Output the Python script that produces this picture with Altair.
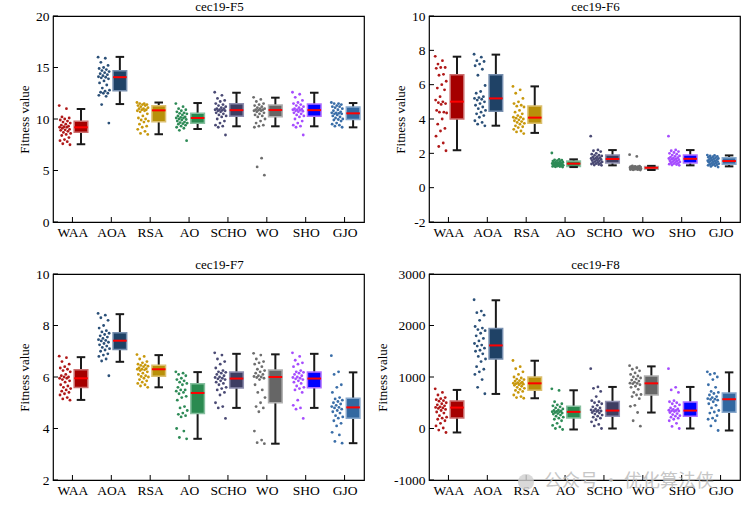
import altair as alt
import pandas as pd

ALGS = ["WAA", "AOA", "RSA", "AO", "SCHO", "WO", "SHO", "GJO"]
POINT_COLORS = ["#b01818", "#2b5078", "#c8980c", "#2e8b57", "#4a4a74", "#6e6e6e", "#a64dff", "#3a6ea8"]
BOX_FILL = ["#a50000", "#1f4266", "#b8900a", "#2a8a50", "#3e3e62", "#666666", "#0000ff", "#3368a0"]
BOX_EDGE = ["#cc7070", "#7890b0", "#dcc070", "#88c0a0", "#9090b0", "#b0b0b0", "#b070ff", "#88a8cc"]

# ---------------- cec19-F5 ----------------
F5_WAA = [11.3, 11.0, 10.2, 10.1, 10.0, 9.9, 9.8, 9.7, 9.6, 9.5, 9.4, 9.3, 9.25, 9.2, 9.2, 9.1, 9.0, 8.95, 8.9, 8.8, 8.7, 8.6, 8.5, 8.4, 8.2, 8.0, 7.9, 7.8, 7.6, 7.5]
F5_AOA = [16.0, 15.9, 15.5, 15.2, 15.0, 14.9, 14.8, 14.7, 14.6, 14.5, 14.4, 14.3, 14.2, 14.1, 14.05, 14.0, 13.9, 13.7, 13.5, 13.3, 13.0, 12.8, 12.7, 12.6, 12.5, 12.5, 12.3, 12.2, 11.4, 9.6]
F5_RSA = [11.6, 11.5, 11.5, 11.4, 11.4, 11.3, 11.3, 11.2, 11.1, 11.0, 11.0, 10.9, 10.9, 10.8, 10.8, 10.7, 10.5, 10.3, 10.1, 10.0, 9.9, 9.8, 9.7, 9.5, 9.3, 9.2, 9.0, 8.8, 8.6, 8.5]
F5_AO = [11.5, 11.2, 11.0, 10.9, 10.8, 10.7, 10.6, 10.55, 10.5, 10.4, 10.3, 10.2, 10.15, 10.1, 10.1, 10.0, 9.95, 9.9, 9.8, 9.7, 9.65, 9.6, 9.55, 9.5, 9.4, 9.3, 9.2, 9.1, 8.9, 7.9]
F5_SCHO = [12.6, 12.3, 12.0, 11.8, 11.7, 11.5, 11.4, 11.3, 11.2, 11.1, 11.0, 11.0, 10.9, 10.9, 10.85, 10.8, 10.8, 10.7, 10.6, 10.5, 10.4, 10.3, 10.2, 10.0, 9.8, 9.6, 9.4, 9.3, 9.2, 8.45]
F5_WO = [12.1, 11.9, 11.7, 11.5, 11.4, 11.3, 11.2, 11.1, 11.0, 11.0, 10.9, 10.9, 10.85, 10.8, 10.8, 10.7, 10.6, 10.5, 10.4, 10.3, 10.2, 10.0, 9.8, 9.6, 9.4, 9.3, 9.2, 6.2, 5.35, 4.55]
F5_SHO = [12.6, 12.4, 12.1, 11.8, 11.6, 11.5, 11.4, 11.3, 11.2, 11.1, 11.0, 10.95, 10.9, 10.9, 10.85, 10.8, 10.75, 10.7, 10.6, 10.5, 10.4, 10.3, 10.2, 10.0, 9.8, 9.6, 9.4, 9.3, 9.2, 8.45]
F5_GJO = [11.6, 11.5, 11.5, 11.4, 11.3, 11.2, 11.2, 11.1, 11.0, 10.9, 10.8, 10.7, 10.6, 10.6, 10.55, 10.5, 10.5, 10.4, 10.3, 10.2, 10.1, 10.0, 9.95, 9.9, 9.8, 9.6, 9.5, 9.4, 9.3, 9.2]
F5_Q1 = [8.71, 12.74, 9.74, 9.58, 10.26, 10.23, 10.26, 9.94]
F5_MED = [9.19, 14.06, 10.84, 10.1, 10.86, 10.87, 10.86, 10.55]
F5_Q3 = [9.77, 14.68, 11.29, 10.55, 11.48, 11.36, 11.45, 11.16]
F5_LO = [7.55, 11.45, 8.52, 9.03, 9.29, 9.29, 9.29, 9.19]
F5_HI = [10.97, 16.03, 11.6, 11.55, 12.55, 12.07, 12.55, 11.55]

# ---------------- cec19-F6 ----------------
F6_WAA = [7.65, 7.4, 7.2, 7.0, 7.0, 6.95, 6.6, 6.55, 6.2, 6.0, 5.8, 5.7, 5.3, 5.1, 5.0, 4.95, 4.9, 4.85, 4.5, 4.4, 4.4, 4.35, 4.0, 3.7, 3.45, 3.3, 3.0, 2.6, 2.4, 2.15]
F6_AOA = [7.77, 7.6, 7.4, 7.35, 7.2, 7.1, 6.9, 6.55, 5.95, 5.6, 5.5, 5.3, 5.25, 5.2, 5.15, 5.1, 5.0, 4.9, 4.8, 4.7, 4.6, 4.5, 4.4, 4.3, 4.2, 4.1, 3.9, 3.8, 3.7, 3.6]
F6_RSA = [5.9, 5.7, 5.5, 5.2, 5.0, 4.9, 4.8, 4.75, 4.7, 4.5, 4.4, 4.3, 4.2, 4.1, 4.1, 4.05, 4.0, 3.95, 3.9, 3.85, 3.8, 3.75, 3.7, 3.6, 3.55, 3.5, 3.4, 3.3, 3.25, 3.15]
F6_AO = [2.02, 1.65, 1.62, 1.6, 1.58, 1.55, 1.53, 1.5, 1.48, 1.46, 1.45, 1.43, 1.42, 1.41, 1.4, 1.39, 1.38, 1.36, 1.35, 1.33, 1.31, 1.3, 1.28, 1.27, 1.26, 1.25, 1.24, 1.23, 1.22, 1.2]
F6_SCHO = [3.0, 2.2, 2.15, 2.1, 2.0, 1.95, 1.9, 1.88, 1.85, 1.8, 1.78, 1.75, 1.72, 1.7, 1.68, 1.66, 1.64, 1.6, 1.58, 1.55, 1.52, 1.5, 1.47, 1.45, 1.42, 1.4, 1.38, 1.35, 1.32, 1.3]
F6_WO = [1.92, 1.82, 1.27, 1.25, 1.24, 1.23, 1.22, 1.21, 1.2, 1.19, 1.18, 1.17, 1.17, 1.16, 1.16, 1.15, 1.15, 1.14, 1.13, 1.12, 1.11, 1.1, 1.09, 1.08, 1.07, 1.07, 1.06, 1.05, 1.04, 1.03]
F6_SHO = [3.0, 2.2, 2.15, 2.1, 2.05, 2.0, 1.95, 1.9, 1.85, 1.82, 1.78, 1.75, 1.72, 1.7, 1.68, 1.66, 1.63, 1.6, 1.57, 1.55, 1.52, 1.5, 1.47, 1.45, 1.42, 1.4, 1.37, 1.35, 1.32, 1.3]
F6_GJO = [1.9, 1.88, 1.85, 1.82, 1.8, 1.77, 1.75, 1.72, 1.7, 1.68, 1.65, 1.62, 1.6, 1.57, 1.55, 1.55, 1.52, 1.5, 1.48, 1.45, 1.42, 1.4, 1.38, 1.36, 1.34, 1.32, 1.3, 1.27, 1.24, 1.2]
F6_Q1 = [4.0, 4.45, 3.75, 1.24, 1.44, 1.07, 1.44, 1.36]
F6_MED = [5.01, 5.2, 4.08, 1.4, 1.67, 1.16, 1.68, 1.55]
F6_Q3 = [6.58, 6.58, 4.76, 1.55, 1.9, 1.24, 1.9, 1.75]
F6_LO = [2.18, 3.61, 3.19, 1.2, 1.3, 1.03, 1.3, 1.24]
F6_HI = [7.63, 7.75, 5.9, 1.65, 2.19, 1.27, 2.19, 1.88]

# ---------------- cec19-F7 ----------------
F7_WAA = [6.81, 6.75, 6.6, 6.5, 6.4, 6.35, 6.3, 6.25, 6.2, 6.1, 6.05, 6.0, 6.0, 5.95, 5.95, 5.9, 5.85, 5.8, 5.7, 5.65, 5.6, 5.55, 5.5, 5.45, 5.4, 5.35, 5.3, 5.2, 5.15, 5.1]
F7_AOA = [8.47, 8.4, 8.3, 8.2, 8.0, 7.9, 7.8, 7.75, 7.7, 7.65, 7.6, 7.55, 7.5, 7.45, 7.42, 7.4, 7.35, 7.3, 7.25, 7.2, 7.15, 7.1, 7.05, 7.0, 6.9, 6.85, 6.8, 6.7, 6.62, 6.05]
F7_RSA = [6.87, 6.8, 6.7, 6.6, 6.55, 6.5, 6.47, 6.45, 6.42, 6.4, 6.35, 6.32, 6.3, 6.3, 6.28, 6.25, 6.2, 6.15, 6.1, 6.05, 6.02, 6.0, 5.95, 5.9, 5.85, 5.8, 5.75, 5.7, 5.65, 5.6]
F7_AO = [6.2, 6.15, 6.1, 6.05, 5.95, 5.9, 5.85, 5.8, 5.75, 5.7, 5.6, 5.5, 5.5, 5.45, 5.4, 5.35, 5.25, 5.2, 5.1, 4.85, 4.8, 4.7, 4.6, 4.55, 4.5, 4.45, 4.0, 3.9, 3.65, 3.6]
F7_SCHO = [6.94, 6.85, 6.7, 6.6, 6.5, 6.35, 6.25, 6.2, 6.18, 6.15, 6.1, 6.05, 6.0, 5.98, 5.95, 5.93, 5.9, 5.85, 5.8, 5.75, 5.7, 5.6, 5.55, 5.5, 5.4, 5.3, 5.0, 4.85, 4.8, 4.39]
F7_WO = [6.92, 6.85, 6.7, 6.6, 6.55, 6.5, 6.4, 6.3, 6.25, 6.2, 6.15, 6.1, 6.05, 6.02, 6.0, 5.98, 5.95, 5.9, 5.7, 5.5, 5.4, 5.2, 5.0, 4.85, 4.8, 4.65, 3.9, 3.55, 3.45, 3.41]
F7_SHO = [6.94, 6.8, 6.65, 6.55, 6.5, 6.4, 6.25, 6.2, 6.18, 6.15, 6.1, 6.05, 6.0, 5.98, 5.95, 5.93, 5.9, 5.85, 5.8, 5.75, 5.65, 5.6, 5.55, 5.5, 5.4, 5.1, 4.9, 4.8, 4.75, 4.39]
F7_GJO = [6.83, 6.2, 6.1, 5.7, 5.6, 5.4, 5.2, 5.15, 5.1, 5.05, 5.0, 4.95, 4.9, 4.85, 4.82, 4.8, 4.75, 4.7, 4.65, 4.6, 4.5, 4.45, 4.4, 4.3, 4.2, 4.1, 3.85, 3.75, 3.5, 3.43]
F7_Q1 = [5.59, 7.07, 6.03, 4.58, 5.57, 5.0, 5.58, 4.4]
F7_MED = [5.95, 7.41, 6.3, 5.38, 5.94, 6.0, 5.94, 4.82]
F7_Q3 = [6.28, 7.72, 6.46, 5.74, 6.19, 6.27, 6.19, 5.17]
F7_LO = [5.11, 6.59, 5.6, 3.6, 4.8, 3.41, 4.8, 3.43]
F7_HI = [6.77, 8.44, 6.85, 6.19, 6.9, 6.88, 6.9, 6.18]

# ---------------- cec19-F8 ----------------
F8_WAA = [770, 700, 650, 600, 580, 560, 540, 530, 500, 480, 460, 440, 420, 410, 400, 390, 370, 350, 320, 300, 250, 220, 200, 180, 150, 100, 50, 10, -30, -77]
F8_AOA = [2500, 2280, 2250, 2200, 2100, 1980, 1950, 1920, 1900, 1850, 1800, 1750, 1700, 1650, 1620, 1600, 1560, 1520, 1500, 1450, 1400, 1350, 1300, 1200, 1150, 1100, 1050, 950, 800, 675]
F8_RSA = [1320, 1200, 1160, 1100, 1050, 1000, 980, 960, 950, 930, 920, 900, 890, 880, 875, 870, 860, 850, 840, 820, 800, 780, 760, 740, 720, 700, 650, 620, 600, 587]
F8_AO = [770, 740, 520, 480, 460, 440, 420, 400, 380, 360, 350, 340, 330, 325, 320, 310, 300, 290, 280, 260, 240, 220, 200, 180, 150, 100, 60, 30, 0, -19]
F8_SCHO = [1161, 807, 780, 720, 620, 540, 520, 500, 480, 450, 420, 400, 380, 360, 350, 345, 340, 330, 310, 300, 280, 260, 240, 220, 200, 170, 130, 80, 50, 0]
F8_WO = [1220, 1180, 1150, 1120, 1080, 1050, 1020, 1000, 980, 960, 940, 920, 900, 880, 875, 870, 850, 820, 800, 760, 700, 660, 650, 620, 580, 450, 430, 310, 150, 45]
F8_SHO = [1161, 800, 750, 700, 540, 520, 500, 480, 460, 430, 400, 380, 370, 355, 350, 345, 340, 330, 310, 290, 270, 250, 240, 220, 200, 180, 150, 100, 40, 0]
F8_GJO = [1100, 1070, 1050, 1000, 950, 850, 800, 720, 700, 680, 650, 620, 600, 580, 570, 565, 550, 520, 480, 450, 400, 350, 320, 300, 250, 200, 180, 150, 50, -39]
F8_Q1 = [206, 1348, 742, 206, 239, 652, 239, 316]
F8_MED = [406, 1613, 877, 323, 348, 877, 348, 568]
F8_Q3 = [536, 1942, 1000, 432, 523, 1019, 516, 690]
F8_LO = [-77, 671, 587, -19, 0, 310, 0, -39]
F8_HI = [749, 2490, 1316, 742, 807, 1206, 807, 1090]

F5_TICKS = [0, 5, 10, 15, 20]
F6_TICKS = [-2, 0, 2, 4, 6, 8, 10]
F7_TICKS = [2, 4, 6, 8, 10]
F8_TICKS = [-1000, 0, 1000, 2000, 3000]

WATERMARK = "公众号 · 优化算法侠"

FONT = "Liberation Serif"
W, H = 311, 206
LABEL_EXPR = "[" + ",".join("'%s'" % a for a in ALGS) + "][floor(datum.value)]"


def panel(title, series, q1, med, q3, lo, hi, ticks, watermark=False):
    rows = []
    for i, (a, vals) in enumerate(zip(ALGS, series)):
        for k, v in enumerate(vals):
            rows.append({"alg": a, "idx": i, "k": k, "v": v})
    pts = pd.DataFrame(rows)
    box = pd.DataFrame({"alg": ALGS, "idx": list(range(8)), "q1": q1, "med": med,
                        "q3": q3, "lo": lo, "hi": hi})
    tdf = pd.DataFrame({"t": ticks})
    xdf = pd.DataFrame({"t": [i + 0.5 for i in range(8)]})

    xs = alt.Scale(domain=[0, 8], nice=False, zero=False)
    ys = alt.Scale(domain=[ticks[0], ticks[-1]], nice=False, zero=False)
    xaxis = alt.Axis(values=[i + 0.5 for i in range(8)], labelExpr=LABEL_EXPR, title=None,
                     grid=False, ticks=False, domain=False, labelPadding=3)
    yaxis = alt.Axis(values=ticks, labelExpr="'' + datum.value", title="Fitness value",
                     grid=False, ticks=False, domain=False, labelPadding=4, titlePadding=4)

    X = lambda f: alt.X(f, type="quantitative", scale=xs, axis=xaxis)
    Y = lambda f: alt.Y(f, type="quantitative", scale=ys, axis=yaxis)

    points = alt.Chart(pts).transform_calculate(
        px="datum.idx + 0.5 - 0.19 + ((datum.k * 0.6180339) % 1 - 0.5) * 0.30"
    ).mark_circle(size=8, opacity=1).encode(
        x=X("px"), y=Y("v"),
        color=alt.Color("alg:N", scale=alt.Scale(domain=ALGS, range=POINT_COLORS), legend=None),
    )

    bx = alt.Chart(box).transform_calculate(
        bc="datum.idx + 0.5 + 0.22",
        bl="datum.idx + 0.5 + 0.045",
        br="datum.idx + 0.5 + 0.395",
        cl="datum.idx + 0.5 + 0.11",
        cr="datum.idx + 0.5 + 0.33",
    )
    whisk = bx.mark_rule(color="#1a1a1a", strokeWidth=2).encode(x=X("bc"), y=Y("lo"), y2="hi")
    cap_lo = bx.mark_rule(color="#1a1a1a", strokeWidth=2).encode(x=X("cl"), x2="cr", y=Y("lo"))
    cap_hi = bx.mark_rule(color="#1a1a1a", strokeWidth=2).encode(x=X("cl"), x2="cr", y=Y("hi"))
    rect = bx.mark_bar(strokeWidth=1.5).encode(
        x=X("bl"), x2="br", y=Y("q1"), y2="q3",
        fill=alt.Fill("alg:N", scale=alt.Scale(domain=ALGS, range=BOX_FILL), legend=None),
        stroke=alt.Stroke("alg:N", scale=alt.Scale(domain=ALGS, range=BOX_EDGE), legend=None),
    )
    median = bx.mark_rule(color="#ff0000", strokeWidth=2).encode(x=X("bl"), x2="br", y=Y("med"))

    ytick = alt.Chart(tdf).mark_rule(color="black", strokeWidth=1).encode(
        y=Y("t"), x=alt.value(0), x2=alt.value(5))
    xtick = alt.Chart(xdf).mark_rule(color="black", strokeWidth=1).encode(
        x=X("t"), y=alt.value(H), y2=alt.value(H - 5))

    layers = [points, whisk, rect, cap_lo, cap_hi, median, ytick, xtick]
    if watermark:
        wm = pd.DataFrame({"s": [WATERMARK]})
        icon = alt.Chart(wm).mark_circle(size=260, color="#d0d0d0", opacity=0.8).encode(
            x=alt.value(97), y=alt.value(208))
        txt = alt.Chart(wm).mark_text(font="Noto Sans CJK SC", fontSize=18, color="#bdbdbd",
                                      opacity=0.85, align="left", baseline="middle").encode(
            text="s:N", x=alt.value(115), y=alt.value(208))
        layers += [icon, txt]

    return alt.layer(*layers).properties(
        width=W, height=H,
        title=alt.TitleParams(title, font=FONT, fontSize=13, fontWeight="normal", color="black",
                              offset=-5, dx=11, frame="group"),
    )


p1 = panel("cec19-F5", [F5_WAA, F5_AOA, F5_RSA, F5_AO, F5_SCHO, F5_WO, F5_SHO, F5_GJO],
           F5_Q1, F5_MED, F5_Q3, F5_LO, F5_HI, F5_TICKS)
p2 = panel("cec19-F6", [F6_WAA, F6_AOA, F6_RSA, F6_AO, F6_SCHO, F6_WO, F6_SHO, F6_GJO],
           F6_Q1, F6_MED, F6_Q3, F6_LO, F6_HI, F6_TICKS)
p3 = panel("cec19-F7", [F7_WAA, F7_AOA, F7_RSA, F7_AO, F7_SCHO, F7_WO, F7_SHO, F7_GJO],
           F7_Q1, F7_MED, F7_Q3, F7_LO, F7_HI, F7_TICKS)
p4 = panel("cec19-F8", [F8_WAA, F8_AOA, F8_RSA, F8_AO, F8_SCHO, F8_WO, F8_SHO, F8_GJO],
           F8_Q1, F8_MED, F8_Q3, F8_LO, F8_HI, F8_TICKS, watermark=True)

chart = alt.concat(
    p1, p2, p3, p4, columns=2, bounds="flush",
    spacing={"row": 52, "column": 65},
).properties(
    padding={"left": 17, "top": 0, "right": 5, "bottom": 5},
    background="white",
).configure_view(
    stroke="black", strokeWidth=1.2,
).configure_axis(
    labelFont=FONT, labelFontSize=13.5, labelColor="black",
    titleFont=FONT, titleFontSize=13, titleFontWeight="normal", titleColor="black",
)

chart.save("out.html", embed_options={"renderer": "svg", "actions": False})
